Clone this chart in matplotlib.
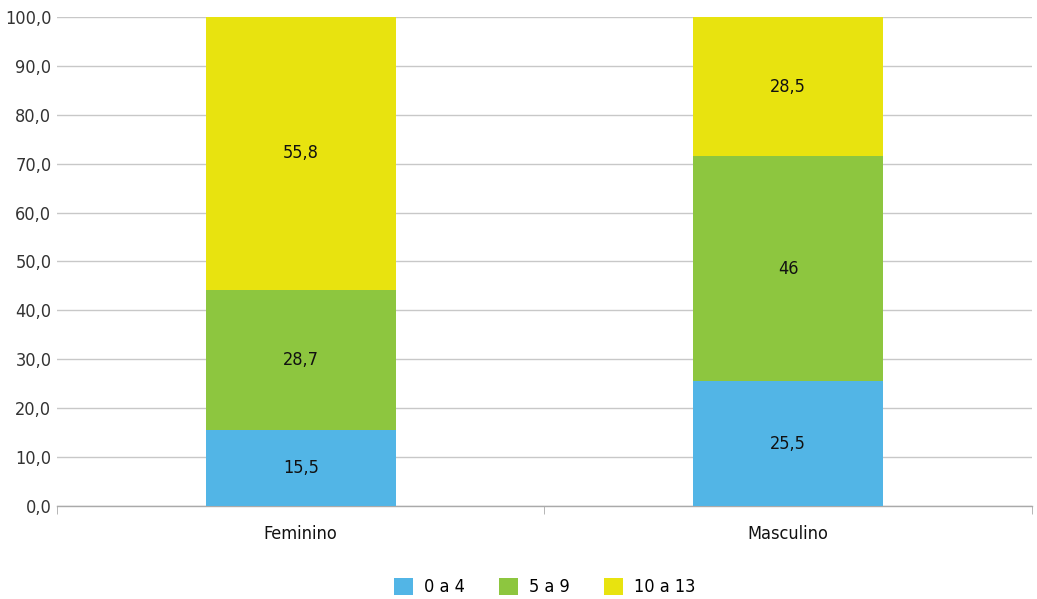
import numpy as np
import matplotlib
matplotlib.use('Agg')
import matplotlib.pyplot as plt
from matplotlib.ticker import FixedLocator

plt.rcParams['font.family'] = ['DejaVu Sans']
plt.rcParams['font.stretch'] = 'condensed'

categorias = ['Feminino', 'Masculino']
faixas = ['0 a 4', '5 a 9', '10 a 13']
valores = {
    '0 a 4': [15.5, 25.5],
    '5 a 9': [28.7, 46.0],
    '10 a 13': [55.8, 28.5],
}
rotulos = {
    '0 a 4': ['15,5', '25,5'],
    '5 a 9': ['28,7', '46'],
    '10 a 13': ['55,8', '28,5'],
}
cores = ['#52B5E6', '#8DC63F', '#E8E30F']

fig = plt.figure(figsize=(10.37, 5.99), dpi=100)
ax = fig.add_axes([0.055, 0.1553, 0.94, 0.8163])

x = np.arange(len(categorias))
base = np.zeros(len(categorias))
for faixa, cor in zip(faixas, cores):
    v = np.array(valores[faixa])
    ax.bar(x, v, 0.39, bottom=base, color=cor, label=faixa, zorder=3)
    for xi, b, vi, txt in zip(x, base, v, rotulos[faixa]):
        ax.text(xi, b + vi / 2, txt, ha='center', va='center', fontsize=13, color='#111111', zorder=4)
    base += v

ax.set_xlim(-0.5, 1.5)
ax.set_ylim(0, 100)
ax.set_yticks(np.arange(0, 101, 10))
ax.set_yticklabels([f'{t:.1f}'.replace('.', ',') for t in np.arange(0, 101, 10)], fontsize=13, color='#333333')
ax.set_xticks(x)
ax.set_xticklabels(categorias, fontsize=13, color='#111111')
ax.tick_params(axis='x', length=0, pad=14)
ax.xaxis.set_minor_locator(FixedLocator([-0.5, 0.5, 1.5]))
ax.tick_params(axis='x', which='minor', length=6, color='#aaaaaa')
ax.tick_params(axis='y', length=0, pad=4)
ax.grid(axis='y', color='#c8c8c8', linewidth=1.0, zorder=0)
for s in ['top', 'right', 'left']:
    ax.spines[s].set_visible(False)
ax.spines['bottom'].set_color('#aaaaaa')
ax.spines['bottom'].set_linewidth(1.0)

ax.legend(loc='center', bbox_to_anchor=(0.5, -0.166), ncol=3, frameon=False,
          fontsize=13, handlelength=1.05, handleheight=1.05, columnspacing=1.9,
          handletextpad=0.6, borderpad=0.2)

fig.savefig('out.png', dpi=100)
